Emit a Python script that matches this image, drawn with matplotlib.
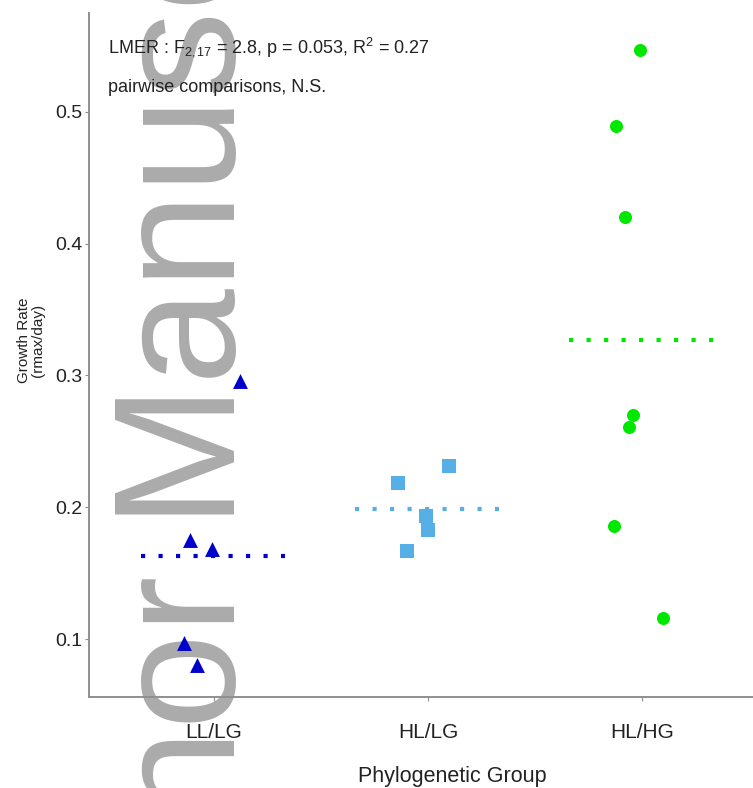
import numpy as np
import matplotlib
matplotlib.use("Agg")
import matplotlib.pyplot as plt

plt.rcParams['font.family'] = ['Liberation Sans', 'DejaVu Sans']
plt.rcParams['mathtext.fontset'] = 'custom'
plt.rcParams['mathtext.rm'] = 'Liberation Sans'
plt.rcParams['mathtext.it'] = 'Liberation Sans:italic'

# group labels and positions on the x axis
groups = ["LL/LG", "HL/LG", "HL/HG"]

# growth rates per group, with jittered x offsets
ll_lg_x = [1.12, 0.89, 0.99, 0.86, 0.92]
ll_lg_y = [0.296, 0.175, 0.168, 0.097, 0.080]

hl_lg_x = [2.10, 1.86, 1.99, 2.00, 1.90]
hl_lg_y = [0.231, 0.218, 0.193, 0.183, 0.167]

hl_hg_x = [2.99, 2.88, 2.92, 2.96, 2.94, 2.87, 3.10]
hl_hg_y = [0.547, 0.489, 0.420, 0.270, 0.261, 0.186, 0.116]

colors = ["#0000CD", "#56B0E6", "#00E800"]
markers = ["^", "s", "o"]
sizes = [115, 95, 88]

fig = plt.figure(figsize=(7.53, 7.88), dpi=100)
fig.patch.set_facecolor("white")

# watermark, behind everything
fig.text(235 / 753, 1 - 384 / 788, "Author Manuscript", rotation=90,
         rotation_mode="anchor", ha="center", va="baseline",
         fontsize=124, color="#ababab", zorder=-1)

ax = fig.add_axes([89 / 753, 1 - 697 / 788, 664 / 753, 684 / 788])
ax.set_facecolor("none")

xs = [ll_lg_x, hl_lg_x, hl_hg_x]
ys = [ll_lg_y, hl_lg_y, hl_hg_y]
for i in range(3):
    ax.scatter(xs[i], ys[i], marker=markers[i], s=sizes[i], color=colors[i],
               linewidths=0, zorder=3)
    m = np.mean(ys[i])
    ax.plot([i + 1 - 0.34, i + 1 + 0.33], [m, m], color=colors[i], lw=3,
            linestyle=(0, (1, 3.2)), dash_capstyle="butt", zorder=2)

ax.set_xlim(0.416, 3.519)
ax.set_ylim(0.056, 0.575)
ax.set_xticks([1, 2, 3])
ax.set_xticklabels(groups)
ax.set_yticks([0.1, 0.2, 0.3, 0.4, 0.5])
ax.set_yticklabels(["0.1", "0.2", "0.3", "0.4", "0.5"])

for s in ["top", "right"]:
    ax.spines[s].set_visible(False)
for s in ["left", "bottom"]:
    ax.spines[s].set_color("#8f8f8f")
    ax.spines[s].set_linewidth(1.4)

ax.tick_params(axis="x", length=3, color="#8f8f8f", pad=16, labelsize=15,
               labelcolor="#222222")
ax.tick_params(axis="y", length=3, color="#8f8f8f", pad=1.5, labelsize=14,
               labelcolor="#222222")

ax.set_xlabel("Phylogenetic Group", fontsize=15.5, color="#222222")
ax.xaxis.set_label_coords(0.547, -0.101)
ax.set_ylabel("Growth Rate\n(rmax/day)", fontsize=11, color="#222222",
              linespacing=1.0)
ax.yaxis.set_label_coords(-0.066, 0.522)

ax.text(108 / 753, 1 - 47 / 788,
        r"LMER : F$_{2,17}$ = 2.8, p = 0.053, R$^{2}$ = 0.27",
        transform=fig.transFigure, ha="left", va="center", fontsize=13,
        color="#222222")
ax.text(108 / 753, 1 - 88 / 788, "pairwise comparisons, N.S.",
        transform=fig.transFigure, ha="left", va="center", fontsize=13,
        color="#222222")

fig.savefig("out.png", dpi=100)
